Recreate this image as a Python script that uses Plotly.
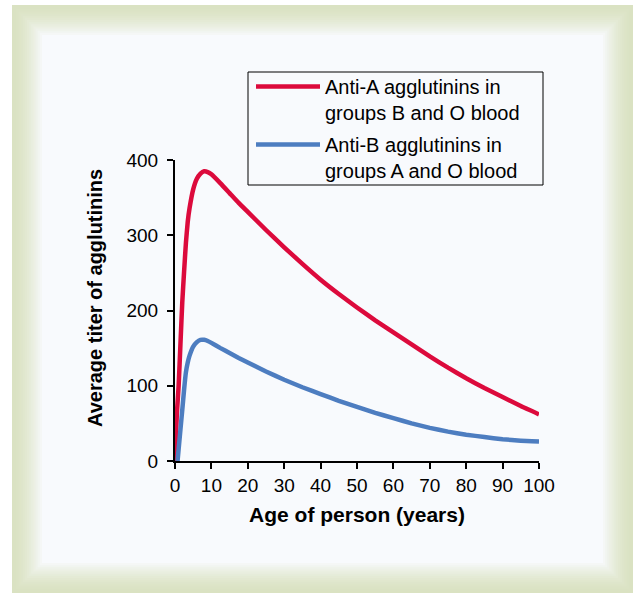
import plotly.graph_objects as go

# Age (years) and average titer
age_a = [0, 0.5, 1, 1.5, 2, 2.5, 3, 3.5, 4, 5, 6, 7, 8, 9, 10, 12.5, 15, 17.5,
         20, 25, 30, 35, 40, 45, 50, 55, 60, 65, 70, 75, 80, 85, 90, 95, 100]
titer_a = [0, 62, 100, 156, 211, 252, 290, 318, 336, 361, 375, 382, 385, 384, 381, 369, 356, 343,
           331, 307, 284, 262, 241, 222, 204, 187, 171, 155, 139, 124, 110, 97, 85, 73, 62]

age_b = [0.7, 1, 1.5, 2, 2.5, 3, 3.5, 4, 5, 6, 7, 8, 9, 10, 12.5, 15, 17.5,
         20, 25, 30, 35, 40, 45, 50, 55, 60, 65, 70, 75, 80, 85, 90, 95, 100]
titer_b = [0, 16, 42, 68, 95, 118, 131, 140, 152, 158, 161, 161, 159.5, 157, 150, 143.5, 137,
           131, 119, 108, 98, 89, 80, 72, 64, 57, 50, 44, 39, 35, 31.8, 29, 27, 26]

name_a = "Anti-A agglutinins in<br>groups B and O blood"
name_b = "Anti-B agglutinins in<br>groups A and O blood"

W, H = 634, 593
L, R, T, B = 175, 95, 160, 132
pw, ph = W - L - R, H - T - B

def px(x):
    return (x - L) / pw

def py(y):
    return (H - B - y) / ph

fig = go.Figure()
fig.add_trace(go.Scatter(x=age_a, y=titer_a, name=name_a, mode="lines", legendgroup="a",
                         line=dict(color="#dc0a3c", width=4.5, shape="spline", smoothing=0.4)))
fig.add_trace(go.Scatter(x=age_b, y=titer_b, name=name_b, mode="lines", legendgroup="b",
                         line=dict(color="#4d7dc0", width=4.5, shape="spline", smoothing=0.4)))

# framed background: green border fading into the pale panel
shapes = []
outer = (218, 226, 194)
inner = (248, 250, 253)
steps = 14
for i in range(steps + 1):
    t = (i / steps) ** 1.6
    c = tuple(round(outer[k] + (inner[k] - outer[k]) * t) for k in range(3))
    d = 30 * i / steps
    shapes.append(dict(type="rect", xref="paper", yref="paper", layer="below",
                       x0=px(12 + d), x1=px(633 - d), y0=py(593 - d), y1=py(5 + d),
                       line=dict(width=0), fillcolor="rgb(%d,%d,%d)" % c))

# legend frame
shapes.append(dict(type="rect", xref="paper", yref="paper", layer="above",
                   x0=px(248), x1=px(543), y0=py(185), y1=py(72),
                   line=dict(color="black", width=1), fillcolor="rgba(0,0,0,0)"))

font = "Arial, Liberation Sans, Helvetica, sans-serif"
fig.update_layout(
    width=W, height=H,
    margin=dict(l=L, r=R, t=T, b=B),
    paper_bgcolor="white",
    plot_bgcolor="rgba(0,0,0,0)",
    font=dict(family=font, size=19, color="black"),
    shapes=shapes,
    showlegend=True,
    legend=dict(x=px(251), y=py(67), xanchor="left", yanchor="top",
                bgcolor="rgba(0,0,0,0)", borderwidth=0,
                font=dict(size=20), tracegroupgap=3, itemwidth=64, valign="top"),
    xaxis=dict(range=[0, 100], tickvals=list(range(0, 101, 10)),
               showgrid=False, zeroline=False, showline=True, linecolor="black", linewidth=2,
               ticks="outside", ticklen=6, tickwidth=2, tickcolor="black",
               title=dict(text="<b>Age of person (years)</b>", standoff=13, font=dict(size=21))),
    yaxis=dict(range=[0, 400], tickvals=[0, 100, 200, 300, 400],
               showgrid=False, zeroline=False, showline=True, linecolor="black", linewidth=2,
               ticks="outside", ticklen=6, tickwidth=2, tickcolor="black", ticklabelstandoff=5),
    annotations=[dict(text="<b>Average titer of agglutinins</b>", textangle=-90,
                      xref="paper", yref="paper", x=px(95), y=py(298),
                      xanchor="center", yanchor="middle",
                      showarrow=False, font=dict(size=20))],
)

fig.write_html("out.html", config={"displayModeBar": False},
               post_script="document.body.style.margin='0';")
